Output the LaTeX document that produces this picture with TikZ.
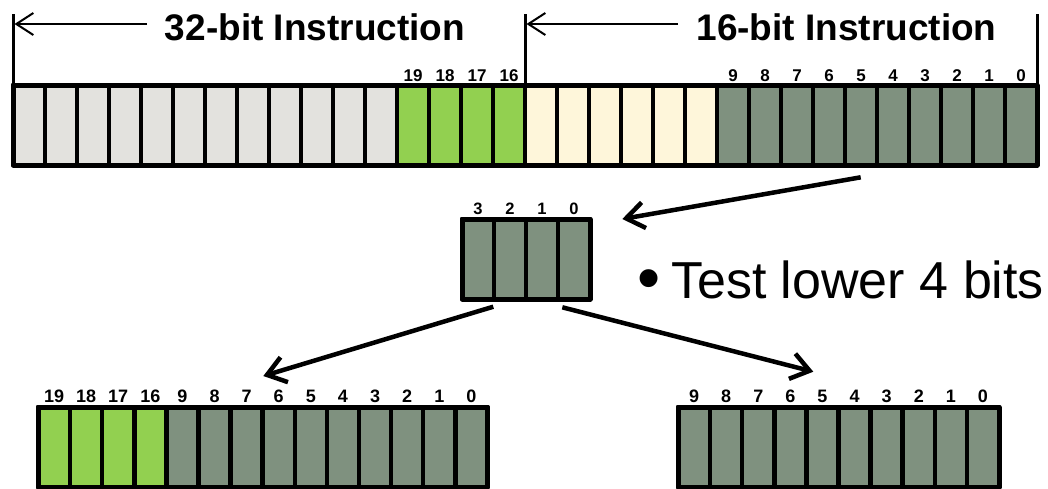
\documentclass[tikz,border=0pt]{standalone}
\usepackage{fontspec}
\setmainfont{Liberation Sans}
\usetikzlibrary{arrows.meta}
\definecolor{cellgray}{HTML}{E3E2DE}
\definecolor{cellgreen}{HTML}{92D050}
\definecolor{cellcream}{HTML}{FEF6DA}
\definecolor{celldark}{HTML}{7F917F}
\begin{document}
\begin{tikzpicture}[x=1pt,y=-1pt,
  cell/.style={draw=black, line width=4.5pt, minimum width=32pt, minimum height=80pt,
    inner sep=0pt, outer sep=0pt, line join=round},
  wcell/.style={cell, minimum width=32.1pt},
  frame/.style={draw=black, line width=5pt, line join=round},
  toplbl/.style={font=\bfseries\fontsize{17}{17}\selectfont, inner sep=0pt, anchor=base},
  midlbl/.style={font=\bfseries\fontsize{16.5}{17}\selectfont, inner sep=0pt, anchor=base},
  botlbl/.style={font=\bfseries\fontsize{18}{18}\selectfont, inner sep=0pt, anchor=base},
  title/.style={font=\bfseries\fontsize{37}{40}\selectfont, inner sep=0pt, anchor=base},
  bigtext/.style={font=\fontsize{52}{56}\selectfont, inner sep=0pt, anchor=base west},
  bullettext/.style={font=\fontsize{66}{66}\selectfont, inner sep=0pt, anchor=base},
  bracket/.style={draw=black, line width=3pt},
  bracketarrow/.style={draw=black, line width=2pt, -{Straight Barb[length=17pt, width=22pt]}},
  connector/.style={draw=black, line width=4.5pt, -{Straight Barb[length=18pt, width=26pt]}}
]
\useasboundingbox (0,0) rectangle (1048,488);

% ---- 32-bit instruction word ----
\foreach \i in {0,...,11} \node[cell, fill=cellgray] (t\i) at ({29+32*\i},125) {};
\foreach \i in {12,...,15} \node[cell, fill=cellgreen] (t\i) at ({29+32*\i},125) {};
\foreach \i in {16,...,21} \node[cell, fill=cellcream] (t\i) at ({29+32*\i},125) {};
\foreach \i in {22,...,31} \node[cell, fill=celldark] (t\i) at ({29+32*\i},125) {};
\draw[frame] (t0.north west) rectangle (t31.south east);
\foreach \i in {12,...,15,22,23,...,31} {
  \pgfmathtruncatemacro{\n}{31-\i}
  \node[toplbl] (tl\i) at ({29+32*\i},81) {\n};
}

% ---- brackets over the word ----
\coordinate (b1top) at (13,14);
\coordinate (b2top) at (525,14);
\coordinate (b3top) at (1037,14);
\draw[bracket] (b1top) -- (t0.north west);
\draw[bracket] (b2top) -- (t16.north west);
\draw[bracket] (b3top) -- (t31.north east);
\coordinate (a1s) at (147,24);
\coordinate (a1e) at (14.5,24);
\coordinate (a2s) at (678,24);
\coordinate (a2e) at (526.5,24);
\draw[bracketarrow] (a1s) -- (a1e);
\draw[bracketarrow] (a2s) -- (a2e);
\node[title] (ttl32) at (315,40.5) {32-bit Instruction};
\node[title] (ttl16) at (846.5,40.5) {16-bit Instruction};

% ---- lower four bits ----
\foreach \i in {0,...,3} {
  \node[cell, fill=celldark] (m\i) at ({478+32*\i},259) {};
  \pgfmathtruncatemacro{\n}{3-\i}
  \node[midlbl] (ml\i) at ({478+32*\i},214) {\n};
}
\draw[frame] (m0.north west) rectangle (m3.south east);

% ---- expanded 20-bit form ----
\foreach \i/\n in {0/19,1/18,2/17,3/16} {
  \node[wcell, fill=cellgreen] (l\i) at ({54.05+32.1*\i},447) {};
  \node[botlbl] (ll\i) at ({54.05+32.1*\i},402.3) {\n};
}
\foreach \i/\n in {4/9,5/8,6/7,7/6,8/5,9/4,10/3,11/2,12/1,13/0} {
  \node[wcell, fill=celldark] (l\i) at ({54.05+32.1*\i},447) {};
  \node[botlbl] (ll\i) at ({54.05+32.1*\i},402.3) {\n};
}
\draw[frame] (l0.north west) rectangle (l13.south east);

% ---- 10-bit form ----
\foreach \i in {0,...,9} {
  \node[wcell, fill=celldark] (r\i) at ({694.05+32.1*\i},447) {};
  \pgfmathtruncatemacro{\n}{9-\i}
  \node[botlbl] (rl\i) at ({694.05+32.1*\i},402.3) {\n};
}
\draw[frame] (r0.north west) rectangle (r9.south east);

% ---- connectors ----
\coordinate (c1s) at (860.7,177.3);
\coordinate (c1e) at (622.3,219);
\coordinate (c2s) at (493.3,306.7);
\coordinate (c2e) at (263.3,376);
\coordinate (c3s) at (562.3,307.3);
\coordinate (c3e) at (813.3,371.7);
\draw[connector] (c1s) -- (c1e);
\draw[connector] (c2s) -- (c2e);
\draw[connector] (c3s) -- (c3e);

% ---- note ----
\node[bullettext] (bul) at (649,300) {\textbullet};
\node[bigtext] (note) at (671,298.5) {Test lower 4 bits};
\end{tikzpicture}
\end{document}
